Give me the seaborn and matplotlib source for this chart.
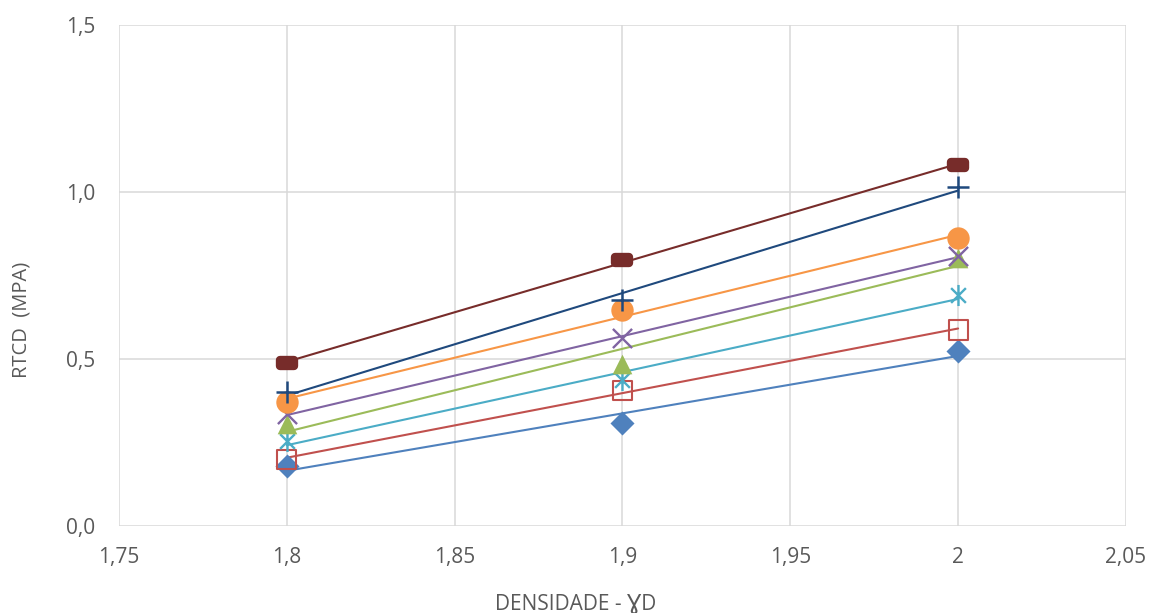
import numpy as np
import matplotlib
matplotlib.use("Agg")
import matplotlib.pyplot as plt
from matplotlib.markers import MarkerStyle
from matplotlib.path import Path
import seaborn as sns

# Densidade (x) and RTCD values per series
densidade = [1.8, 1.9, 2.0]
serie_marrom = [0.488, 0.796, 1.081]
serie_azul_escuro = [0.401, 0.677, 1.015]
serie_laranja = [0.371, 0.647, 0.862]
serie_roxa = [0.335, 0.563, 0.808]
serie_verde = [0.305, 0.485, 0.802]
serie_ciano = [0.254, 0.437, 0.692]
serie_vermelha = [0.200, 0.407, 0.587]
serie_azul = [0.180, 0.308, 0.524]

x_ticks = [1.75, 1.80, 1.85, 1.90, 1.95, 2.00, 2.05]
x_tick_labels = ["1,75", "1,8", "1,85", "1,9", "1,95", "2", "2,05"]
y_ticks = [0.0, 0.5, 1.0, 1.5]
y_tick_labels = ["0,0", "0,5", "1,0", "1,5"]

sns.set_theme(style="white")
plt.rcParams["font.family"] = ["Open Sans", "DejaVu Sans"]

fig, ax = plt.subplots(figsize=(11.56, 6.13), dpi=100)
fig.subplots_adjust(left=0.1029, right=0.974, top=0.959, bottom=0.1419)

# wide rectangle with rounded corners (via thick round-joined edge)
rounded_rect = MarkerStyle(
    Path([(-1, -0.5), (1, -0.5), (1, 0.5), (-1, 0.5), (-1, -0.5)],
         [Path.MOVETO, Path.LINETO, Path.LINETO, Path.LINETO, Path.CLOSEPOLY]),
    joinstyle="round",
)
# X with a vertical bar through it
asterisk = Path(
    [(-0.7, -0.7), (0.7, 0.7), (-0.7, 0.7), (0.7, -0.7), (0, -1), (0, 1)],
    [Path.MOVETO, Path.LINETO, Path.MOVETO, Path.LINETO, Path.MOVETO, Path.LINETO],
)

series = [
    (serie_azul, "#4F81BD", "D", dict(s=150, linewidths=0)),
    (serie_vermelha, "#C0504D", "s", dict(s=190, facecolors="none", linewidths=1.5)),
    (serie_ciano, "#4BACC6", asterisk, dict(s=230, linewidths=1.7)),
    (serie_verde, "#9BBB59", "^", dict(s=200, linewidths=0)),
    (serie_roxa, "#8064A2", "x", dict(s=190, linewidths=1.7)),
    (serie_laranja, "#F79646", "o", dict(s=260, linewidths=0)),
    (serie_azul_escuro, "#1F497D", "+", dict(s=260, linewidths=1.8)),
    (serie_marrom, "#772C2A", rounded_rect, dict(s=100, linewidths=6)),
]

for values, color, marker, kws in series:
    scatter_kws = dict(zorder=3, alpha=1, edgecolors=color)
    scatter_kws.update(kws)
    sns.regplot(
        x=densidade, y=values, ax=ax, ci=None, truncate=True,
        color=color, marker=marker,
        scatter_kws=scatter_kws,
        line_kws=dict(color=color, linewidth=1.5, zorder=2),
    )

ax.set_xlim(1.75, 2.05)
ax.set_ylim(0, 1.5)
ax.set_xticks(x_ticks)
ax.set_xticklabels(x_tick_labels)
ax.set_yticks(y_ticks)
ax.set_yticklabels(y_tick_labels)
ax.tick_params(axis="both", labelsize=15, labelcolor="#595959", length=0)
ax.tick_params(axis="x", pad=15)
ax.tick_params(axis="y", pad=17)

ax.grid(True, color="#D9D9D9", linewidth=1.1)
ax.set_axisbelow(True)
for side in ["top", "right", "left", "bottom"]:
    ax.spines[side].set_visible(False)

ax.set_xlabel("")
ax.set_ylabel("")
fig.text(22 / 1156, 1 - 320 / 613, "RTCD  (MPA)", fontsize=14.5,
         color="#595959", ha="center", va="center", rotation=90)
fig.text(576 / 1156, 3 / 613, "DENSIDADE - ƔD", fontsize=15,
         color="#595959", ha="center", va="baseline")

fig.savefig("out.png", dpi=100)
